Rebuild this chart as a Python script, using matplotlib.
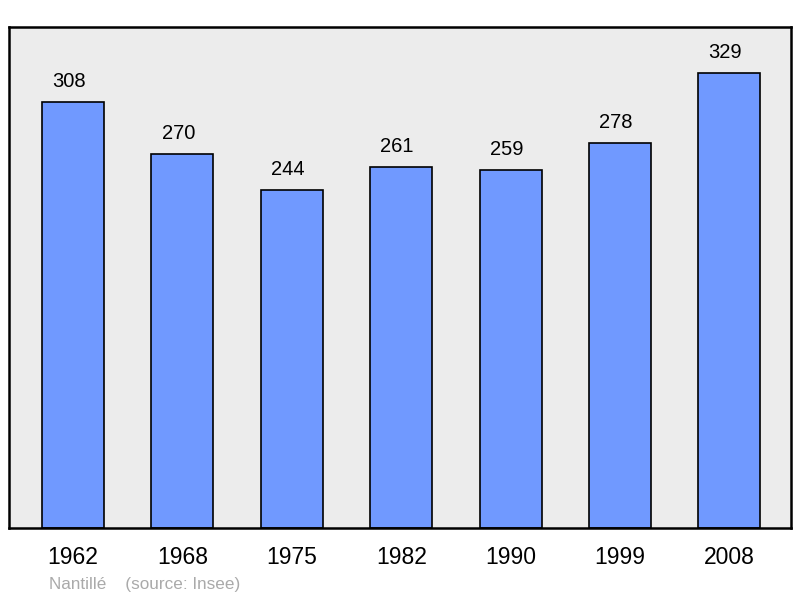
import matplotlib.pyplot as plt

years = ["1962", "1968", "1975", "1982", "1990", "1999", "2008"]
population = [308, 270, 244, 261, 259, 278, 329]

plt.rcParams['font.family'] = ['Liberation Sans', 'DejaVu Sans']

fig = plt.figure(figsize=(8, 5.98), dpi=100)
ax = fig.add_axes([9 / 800, 1 - 528 / 598, 782 / 800, 501 / 598])
ax.set_facecolor('#ececec')

pos = list(range(len(years)))
bars = ax.bar(pos, population, width=0.567, color='#7099ff',
              edgecolor='black', linewidth=1.2, zorder=2)

for x, v in zip(pos, population):
    ax.annotate(str(v), (x, v), xytext=(-3, 10.8), textcoords='offset points',
                ha='center', va='baseline', fontsize=14.5)

ax.set_xlim(-0.585, 6.563)
ax.set_ylim(0, 362)
ax.set_yticks([])
ax.set_xticks(pos)
ax.set_xticklabels(years, fontsize=16.5)
ax.tick_params(axis='x', length=0, pad=13)
for s in ax.spines.values():
    s.set_linewidth(1.8)

fig.text(49 / 800, 9 / 598, "Nantillé    (source: Insee)", fontsize=12.3,
         color='#aaaaaa', ha='left', va='baseline')

fig.savefig("out.png")
